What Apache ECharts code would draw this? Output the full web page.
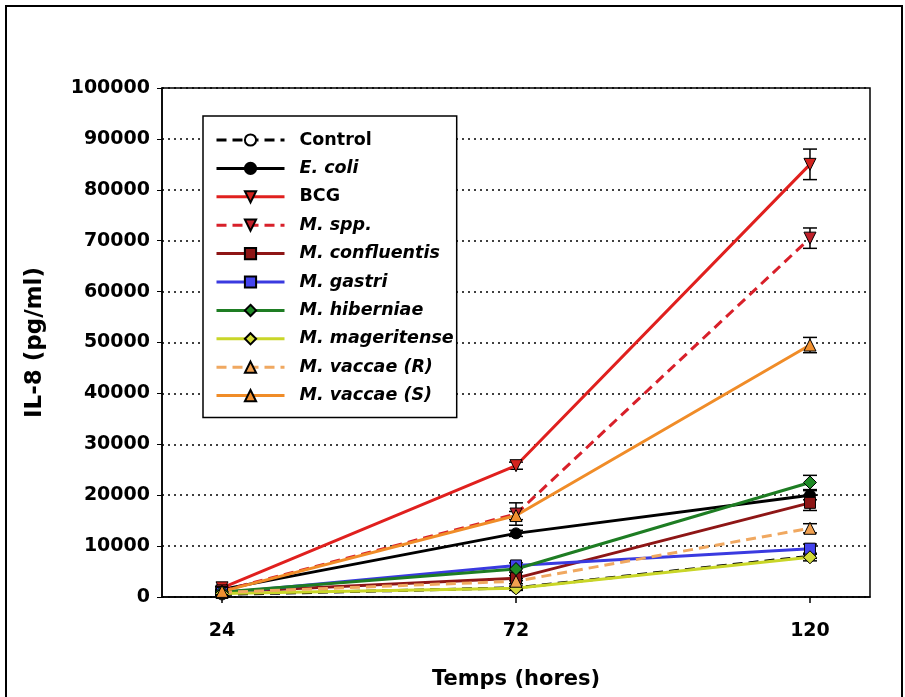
<!DOCTYPE html>
<html><head><meta charset="utf-8">
<script src="https://cdn.jsdelivr.net/npm/echarts@6/dist/echarts.min.js"></script>
<style>html,body{margin:0;padding:0;background:#fff}#c{width:905px;height:697px}</style>
</head><body><div id="c"></div>
<script>
var hours = [24, 72, 120];
var tickLabels = [24, 72, 120];
var names = ['Control','E. coli','BCG','M. spp.','M. confluentis','M. gastri','M. hiberniae','M. mageritense','M. vaccae (R)','M. vaccae (S)'];
var control      = [500, 1800, 8000];
var ecoli        = [1500, 12500, 20000];
var bcg          = [1800, 25800, 85000];
var mspp         = [1200, 16300, 70500];
var mconfluentis = [1000, 3700, 18500];
var mgastri      = [800, 6200, 9500];
var mhiberniae   = [1000, 5500, 22500];
var mmageritense = [700, 1700, 7800];
var mvaccaeR     = [900, 3100, 13500];
var mvaccaeS     = [1100, 16000, 49500];
var errControl   = [200, 300, 400];
var errEcoli     = [300, 600, 900];
var errBcg       = [300, 700, 3000];
var errMspp      = [300, 2200, 2000];
var errConfl     = [200, 500, 1500];
var errGastri    = [200, 500, 900];
var errHibern    = [200, 600, 1400];
var errMager     = [200, 400, 700];
var errVacR      = [200, 500, 900];
var errVacS      = [200, 800, 1500];

var FONT = '"DejaVu Sans", Verdana, sans-serif';
var styles = [
  {d: control, e: errControl, c: '#000000', s: 'circle', rot: 0, dash: true, fill: '#ffffff'},
  {d: ecoli, e: errEcoli, c: '#000000', s: 'circle', rot: 0, dash: false, fill: '#000000'},
  {d: bcg, e: errBcg, c: '#e0201e', s: 'triangle', rot: 180, dash: false, fill: '#d4231e'},
  {d: mspp, e: errMspp, c: '#d8202a', s: 'triangle', rot: 180, dash: true, fill: '#c0202a'},
  {d: mconfluentis, e: errConfl, c: '#8e1616', s: 'rect', rot: 0, dash: false, fill: '#8e1616'},
  {d: mgastri, e: errGastri, c: '#3a3ae0', s: 'rect', rot: 0, dash: false, fill: '#4444ee'},
  {d: mhiberniae, e: errHibern, c: '#1e7d23', s: 'diamond', rot: 0, dash: false, fill: '#1e8a25'},
  {d: mmageritense, e: errMager, c: '#c9d628', s: 'diamond', rot: 0, dash: false, fill: '#d3dc3a'},
  {d: mvaccaeR, e: errVacR, c: '#f0a860', s: 'triangle', rot: 0, dash: true, fill: '#f0a050'},
  {d: mvaccaeS, e: errVacS, c: '#f08c28', s: 'triangle', rot: 0, dash: false, fill: '#f09030'}
];

var series = [];
styles.forEach(function(st, i) {
  var errData = hours.map(function(h, k){ return [h, st.d[k] - st.e[k], st.d[k] + st.e[k]]; });
  series.push({
    type: 'custom', name: names[i] + '_err', silent: true, z: 3,
    data: errData,
    renderItem: function(params, api) {
      var top = api.coord([api.value(0), api.value(2)]);
      var bot = api.coord([api.value(0), api.value(1)]);
      var w = 7;
      var st2 = {stroke: '#000', lineWidth: 1.5};
      return {type: 'group', children: [
        {type: 'line', shape: {x1: top[0], y1: top[1], x2: bot[0], y2: bot[1]}, style: st2},
        {type: 'line', shape: {x1: top[0]-w, y1: top[1], x2: top[0]+w, y2: top[1]}, style: st2},
        {type: 'line', shape: {x1: bot[0]-w, y1: bot[1], x2: bot[0]+w, y2: bot[1]}, style: st2}
      ]};
    }
  });
});
styles.forEach(function(st, i) {
  series.push({
    type: 'line', name: names[i], z: 4,
    data: hours.map(function(h, k){ return [h, st.d[k]]; }),
    symbol: st.s, symbolRotate: st.rot, symbolSize: st.s === 'diamond' ? 13 : (st.s === 'triangle' ? 12 : 11),
    showSymbol: true,
    lineStyle: {color: st.c, width: 3, type: st.dash ? [10, 6] : 'solid'},
    itemStyle: {color: st.fill, borderColor: '#000', borderWidth: 1},
    emphasis: {disabled: true}
  });
});

var italic = {1:true,3:true,4:true,5:true,6:true,7:true,8:true,9:true};
var chart = echarts.init(document.getElementById('c'));
chart.setOption({
  animation: false,
  backgroundColor: '#ffffff',
  graphic: [{type: 'rect', shape: {x: 6, y: 6, width: 896, height: 720}, style: {fill: 'none', stroke: '#000', lineWidth: 2}, z: 100}],
  grid: {left: 162, right: 35, top: 88, bottom: 100, show: true, borderColor: '#000', borderWidth: 1.5},
  legend: {
    orient: 'vertical', left: 203, top: 116,
    data: names,
    itemWidth: 68, itemHeight: 14, itemGap: 10.4,
    padding: [15, 3, 13, 12],
    borderColor: '#000', borderWidth: 1.5, backgroundColor: '#fff',
    lineStyle: {width: 3},
    formatter: function(n) { return italic[names.indexOf(n)] ? '{it|' + n + '}' : '{rm|' + n + '}'; },
    textStyle: {
      padding: [0, 0, 0, 10],
      rich: {
        it: {fontFamily: FONT, fontSize: 17.5, fontStyle: 'italic', fontWeight: 'bold', color: '#000'},
        rm: {fontFamily: FONT, fontSize: 17.5, fontWeight: 'bold', color: '#000'}
      }
    }
  },
  xAxis: {
    type: 'value', min: 14.2, max: 129.8,
    name: 'Temps (hores)', nameLocation: 'middle', nameGap: 72,
    nameTextStyle: {fontFamily: FONT, fontSize: 21, fontWeight: 'bold', color: '#000'},
    axisLine: {lineStyle: {color: '#000', width: 1.5}},
    axisTick: {show: true, inside: false, length: 6, customValues: tickLabels, lineStyle: {color: '#000', width: 1.5}},
    axisLabel: {customValues: tickLabels, margin: 25, fontFamily: FONT, fontSize: 19, fontWeight: 'bold', color: '#000'},
    splitLine: {show: false}
  },
  yAxis: {
    type: 'value', min: 0, max: 100000, interval: 10000,
    name: 'IL-8 (pg/ml)', nameLocation: 'middle', nameGap: 115, nameRotate: 90,
    nameTextStyle: {fontFamily: FONT, fontSize: 23, fontWeight: 'bold', color: '#000'},
    axisLine: {lineStyle: {color: '#000', width: 1.5}},
    axisTick: {show: true, inside: false, length: 5, lineStyle: {color: '#000', width: 1}},
    axisLabel: {margin: 12, fontFamily: FONT, fontSize: 19, fontWeight: 'bold', color: '#000',
      formatter: function(v) { return String(v); }},
    splitLine: {show: true, lineStyle: {color: '#000', width: 1.5, type: [2, 4]}}
  },
  series: series
});
</script></body></html>
